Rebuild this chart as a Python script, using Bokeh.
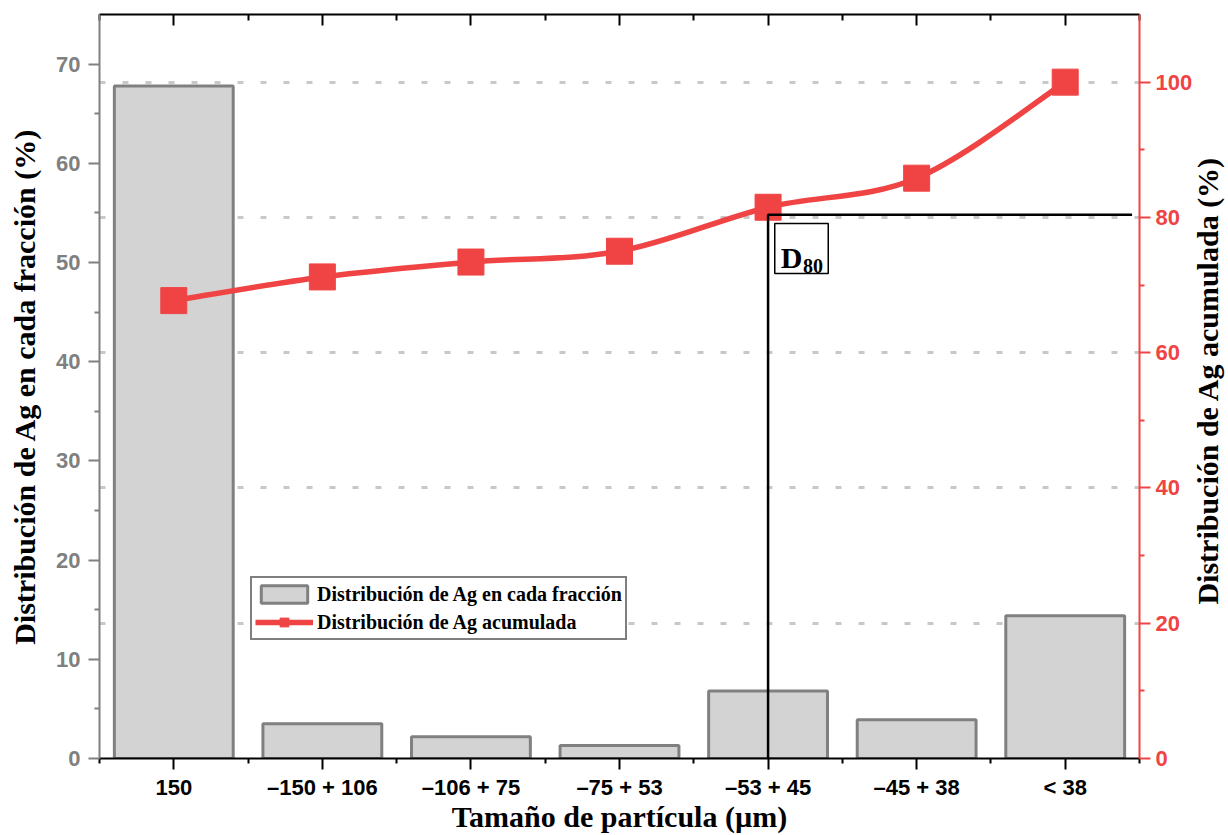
import math
from bokeh.plotting import figure
from bokeh.models import (Range1d, LinearAxis, FixedTicker, Grid, Legend, LegendItem,
                          Label, BoxAnnotation)
from bokeh.embed import file_html
from bokeh.resources import INLINE

# ---------------- data ----------------
categories = ["150", "\u2013150 + 106", "\u2013106 + 75", "\u201375 + 53",
              "\u201353 + 45", "\u201345 + 38", "< 38"]
fraction_pct = [67.8, 3.5, 2.2, 1.3, 6.8, 3.9, 14.4]
cumulative_pct = [67.7, 71.2, 73.4, 75.0, 81.5, 85.8, 100.0]
left_ticks = [0, 10, 20, 30, 40, 50, 60, 70]
left_minor = [5, 15, 25, 35, 45, 55, 65]
right_ticks = [0, 20, 40, 60, 80, 100]
right_minor = [10, 30, 50, 70, 90]
grid_levels = [20, 40, 60, 80, 100]
d80_category = "\u201353 + 45"
d80_level = 80.4
right_title = "Distribución de Ag acumulada (%)"

xs = list(range(len(categories)))
minor_x = [i - 0.5 for i in range(len(categories) + 1)]

RED = "#f04444"
GRAY = "#808080"
SERIF = "Liberation Serif"
SANS = "Liberation Sans"
TICK_FS = "22px"
TITLE_FS = "30px"

p = figure(width=1228, height=835, x_range=Range1d(-0.5, 6.5), y_range=Range1d(0, 75),
           output_backend="svg", toolbar_location=None,
           min_border_left=99, min_border_right=86, min_border_top=14, min_border_bottom=75)
p.extra_y_ranges = {"cum": Range1d(0, 110)}
p.xgrid.visible = False
p.ygrid.visible = False
p.outline_line_color = None
p.background_fill_color = "white"
p.border_fill_color = "white"

# grid tied to the right axis
g = Grid(dimension=1, ticker=FixedTicker(ticks=grid_levels), y_range_name="cum",
         grid_line_color="#c8c8c8", grid_line_width=3, grid_line_dash="6 17")
p.add_layout(g)


def style_axis(a, color, label_color):
    a.axis_line_color = color
    a.axis_line_width = 2
    a.major_tick_line_color = color
    a.major_tick_line_width = 2
    a.minor_tick_line_color = color
    a.minor_tick_line_width = 2
    a.major_tick_in = 0
    a.major_tick_out = 11
    a.minor_tick_in = 0
    a.minor_tick_out = 5
    a.major_label_text_font = SANS
    a.major_label_text_font_style = "bold"
    a.major_label_text_font_size = TICK_FS
    a.major_label_text_color = label_color
    a.axis_label_text_font = SERIF
    a.axis_label_text_font_style = "bold"
    a.axis_label_text_font_size = TITLE_FS
    a.axis_label_text_color = "black"


# ---------------- axes ----------------
ax = p.xaxis[0]
ax.ticker = FixedTicker(ticks=xs, minor_ticks=minor_x)
ax.major_label_overrides = {i: c for i, c in zip(xs, categories)}
style_axis(ax, "black", "black")
ax.major_label_standoff = 5
ax.axis_label = "Tamaño de partícula (µm)"
ax.axis_label_standoff = -3

ay = p.yaxis[0]
ay.ticker = FixedTicker(ticks=left_ticks, minor_ticks=left_minor)
style_axis(ay, GRAY, GRAY)
ay.major_label_standoff = 8
ay.axis_label = "Distribución de Ag en cada fracción (%)"
ay.axis_label_standoff = 12

ar = LinearAxis(y_range_name="cum", ticker=FixedTicker(ticks=right_ticks, minor_ticks=right_minor))
style_axis(ar, RED, RED)
ar.major_label_standoff = 5
p.add_layout(ar, "right")

# right-hand title, reading bottom-to-top like the reference (in the right side panel)
p.add_layout(Label(x=6.96, y=55.9, y_range_name="cum", text=right_title,
                   angle=math.pi / 2, text_align="center", text_baseline="middle",
                   text_font=SERIF, text_font_style="bold", text_font_size=TITLE_FS,
                   text_color="black"), "right")

at = LinearAxis(ticker=FixedTicker(ticks=xs, minor_ticks=minor_x))
at.major_label_overrides = {i: "" for i in xs}
at.major_label_text_font_size = "1px"
at.major_label_standoff = 0
at.axis_line_color = "black"
at.axis_line_width = 2
at.major_tick_line_color = "black"
at.major_tick_line_width = 2
at.minor_tick_line_color = "black"
at.minor_tick_line_width = 2
at.major_tick_in = 11
at.major_tick_out = 0
at.minor_tick_in = 6
at.minor_tick_out = 0
p.add_layout(at, "above")

# ---------------- glyphs ----------------
bars = p.vbar(x=xs, top=fraction_pct, width=0.8, fill_color="#d3d3d3",
              line_color=GRAY, line_width=3)

# smooth curve through the cumulative points (Catmull-Rom as cubic Beziers)
n = len(xs)
x0s, y0s, x1s, y1s, cx0, cy0, cx1, cy1 = [], [], [], [], [], [], [], []
for i in range(n - 1):
    im1 = max(i - 1, 0)
    ip2 = min(i + 2, n - 1)
    x0s.append(xs[i]); y0s.append(cumulative_pct[i])
    x1s.append(xs[i + 1]); y1s.append(cumulative_pct[i + 1])
    cx0.append(xs[i] + (xs[i + 1] - xs[im1]) / 6)
    cy0.append(cumulative_pct[i] + (cumulative_pct[i + 1] - cumulative_pct[im1]) / 6)
    cx1.append(xs[i + 1] - (xs[ip2] - xs[i]) / 6)
    cy1.append(cumulative_pct[i + 1] - (cumulative_pct[ip2] - cumulative_pct[i]) / 6)
curve = p.bezier(x0=x0s, y0=y0s, x1=x1s, y1=y1s, cx0=cx0, cy0=cy0, cx1=cx1, cy1=cy1,
                 line_color=RED, line_width=5.5, y_range_name="cum")
marks = p.scatter(x=xs, y=cumulative_pct, marker="square", size=26, fill_color=RED,
                  line_color=RED, y_range_name="cum")

# D80 guide lines
xd = categories.index(d80_category)
p.line(x=[xd, xd, 6.45], y=[0, d80_level, d80_level], line_color="black", line_width=2.5,
       y_range_name="cum")
box = BoxAnnotation(left=xd + 0.045, right=xd + 0.405, bottom=71.7, top=79.1, y_range_name="cum",
                    fill_color="white", fill_alpha=1, line_color="black", line_alpha=1,
                    line_width=1.5)
p.add_layout(box)
p.add_layout(Label(x=xd + 0.085, y=74.0, y_range_name="cum", text="D", text_font=SERIF,
                   text_font_style="bold", text_font_size="30px", text_color="black",
                   text_baseline="alphabetic"))
p.add_layout(Label(x=xd + 0.235, y=72.8, y_range_name="cum", text="80", text_font=SERIF,
                   text_font_style="bold", text_font_size="20px", text_color="black",
                   text_baseline="alphabetic"))

# ---------------- legend ----------------
legend = Legend(items=[LegendItem(label="Distribución de Ag en cada fracción", renderers=[bars]),
                       LegendItem(label="Distribución de Ag acumulada", renderers=[curve, marks])],
                location=(151, 118))
legend.border_line_color = "black"
legend.border_line_width = 2
legend.background_fill_color = "white"
legend.background_fill_alpha = 1
legend.label_text_font = SERIF
legend.label_text_font_style = "bold"
legend.label_text_font_size = "20px"
legend.label_text_color = "black"
legend.glyph_width = 58
legend.glyph_height = 22
legend.label_height = 26
legend.label_standoff = 4
legend.padding = 3
legend.spacing = 2
legend.margin = 0
p.add_layout(legend)

open("out.html", "w").write(file_html(p, INLINE))
